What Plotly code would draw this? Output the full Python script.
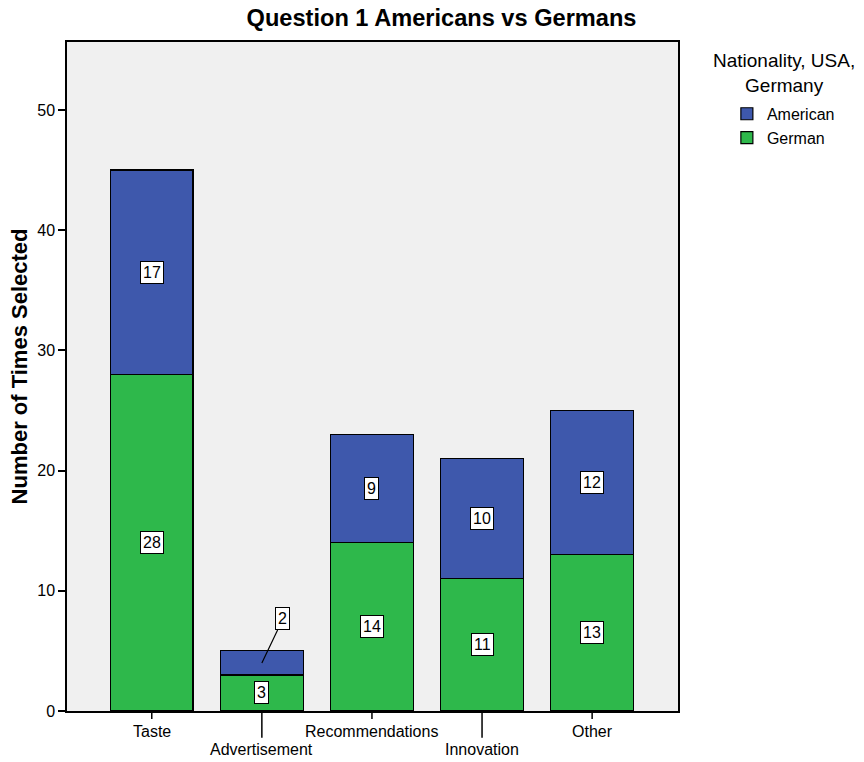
import plotly.graph_objects as go

categories = ["Taste", "Advertisement", "Recommendations", "Innovation", "Other"]
german = [28, 3, 14, 11, 13]
american = [17, 2, 9, 10, 12]
staggered = [False, True, False, True, False]

BLUE = "#3E58AC"
GREEN = "#2EB84B"
FONT = "Liberation Sans, Arial, sans-serif"

x_idx = list(range(len(categories)))

fig = go.Figure()
fig.add_trace(go.Bar(x=x_idx, y=german, name="German", marker=dict(color=GREEN, line=dict(color="black", width=1.2)), width=0.75))
fig.add_trace(go.Bar(x=x_idx, y=american, name="American", marker=dict(color=BLUE, line=dict(color="black", width=1.2)), width=0.75))

box = dict(bgcolor="white", bordercolor="black", borderwidth=1, borderpad=2, font=dict(size=16, color="black", family=FONT))

for i, (g, a) in enumerate(zip(german, american)):
    fig.add_annotation(x=i, y=g / 2, text=str(g), showarrow=False, **box)
    if a < 3:
        fig.add_annotation(x=i, y=g + a / 2, text=str(a), showarrow=True, arrowhead=0,
                           arrowwidth=1.2, arrowcolor="black", ax=21, ay=-44, standoff=0, **box)
    else:
        fig.add_annotation(x=i, y=g + a / 2, text=str(a), showarrow=False, **box)

# staggered category labels with longer tick marks
for i, cat in enumerate(categories):
    long = staggered[i]
    fig.add_shape(type="line", xref="x", yref="paper", x0=i, x1=i, y0=0,
                  y1=-0.040 if long else -0.012, line=dict(color="black", width=1.5))
    fig.add_annotation(x=i, xref="x", yref="paper", y=-0.058 if long else -0.031, text=cat,
                       showarrow=False, yanchor="middle", font=dict(size=16, color="black", family=FONT))

# y-axis title
fig.add_annotation(xref="paper", yref="paper", x=-0.077, y=0.515, text="<b>Number of Times Selected</b>",
                   textangle=-90, showarrow=False, xanchor="center", yanchor="middle",
                   font=dict(size=22, color="black", family=FONT))

# legend heading
fig.add_annotation(xref="paper", yref="paper", x=1.174, y=0.953, text="Nationality, USA,<br>Germany",
                   showarrow=False, xanchor="center", yanchor="middle",
                   font=dict(size=19, color="black", family=FONT))

fig.update_layout(
    width=864, height=762,
    margin=dict(l=67, r=186, t=42, b=51),
    paper_bgcolor="white", plot_bgcolor="#F0F0F0",
    barmode="stack", bargap=0.25,
    font=dict(family=FONT, color="black"),
    title=dict(text="<b>Question 1 Americans vs Germans</b>", x=0.511, xanchor="center", y=0.977, yanchor="middle",
               font=dict(size=23.6, family=FONT, color="black")),
    xaxis=dict(range=[-0.77, 4.78], showticklabels=False, ticks="", showgrid=False, zeroline=False,
               showline=True, linecolor="black", linewidth=1.5, mirror=True),
    yaxis=dict(range=[0, 55.65], tickvals=[0, 10, 20, 30, 40, 50], ticks="outside", ticklen=7,
               tickwidth=1.5, tickcolor="black", showgrid=False, zeroline=False,
               showline=True, linecolor="black", linewidth=1.5, mirror=True,
               tickfont=dict(size=16, family=FONT, color="black")),
    legend=dict(x=1.080, y=0.918, xanchor="left", yanchor="top", traceorder="reversed",
                font=dict(size=16, family=FONT, color="black"), itemwidth=30, tracegroupgap=0,
                bgcolor="rgba(0,0,0,0)"),
    showlegend=True,
)

fig.write_html("out.html")
